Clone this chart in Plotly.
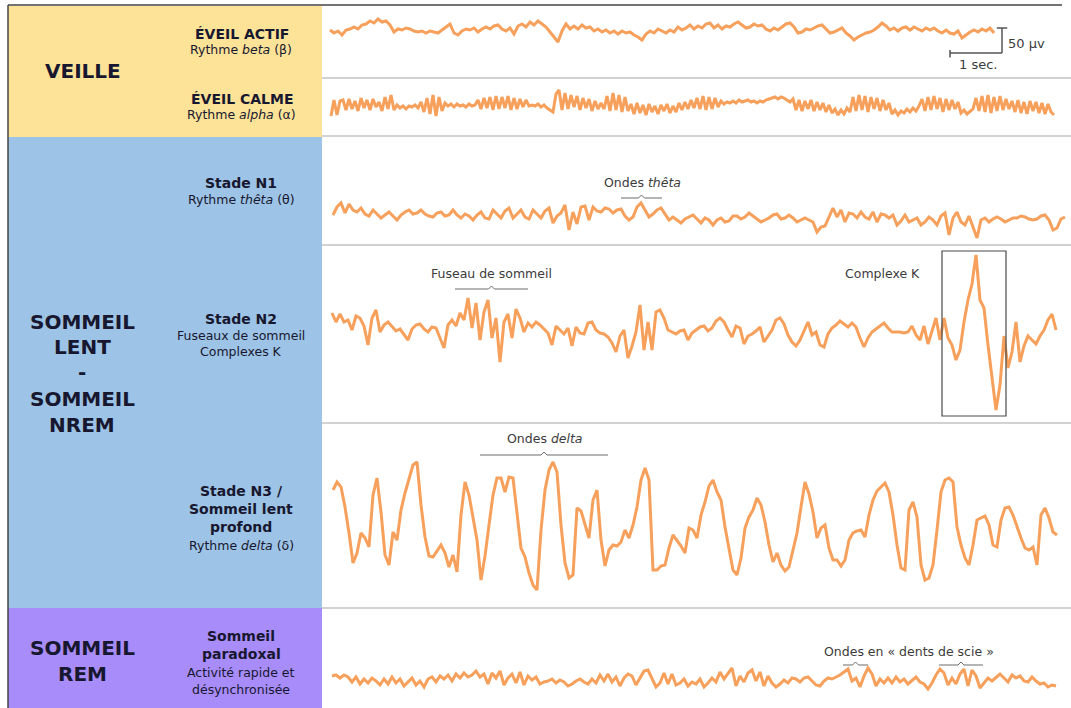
import plotly.graph_objects as go

W, H = 1071, 708
TRACE_LEFT = 322        # left edge of the trace panel (px)
PX_PER_SEC = 52         # time scale of the recordings
PX_PER_UV = 0.5         # amplitude scale: 50 µV = 25 px

# ---- EEG samples, µV (positive = up) ----
beta_uv = [-2, -8, -4, -12, -2, 0, 4, 0, 8, 10, 16, 12, 20, 14, 16, 8, -6, 0, -2, 2,
           0, -4, -6, -4, -8, -4, -6, -8, -2, 4, 10, -8, -12, -4, 0, -2, 2, -6, 0, 4,
           0, 6, 8, 0, -4, 2, -10, 6, 10, 4, 14, 8, 16, 10, 4, -6, -16, -26, -4, 10,
           0, 6, 0, 8, 2, 4, -4, 0, -6, -2, -8, -4, -10, -4, -8, -6, -12, -16, -22, -10,
           -4, -8, 0, -4, -8, -2, -6, 4, -2, 2, 8, 0, 6, 2, 10, 12, 2, 8, 0, 6,
           4, 10, 14, 8, 2, 4, 10, 6, 8, 0, -4, 2, -2, 4, 10, 12, 4, -8, -6, 0,
           -2, 2, 6, 8, 0, -8, -6, -2, 2, -8, -14, -22, -16, -12, -8, -6, -2, 4, 12, 6,
           -2, 2, -4, 2, 4, -2, 4, 0, -4, 2, -2, 2, -4, -8, -2, -8, -10, -4, -18, -12,
           -6, -2, -6, 0, -4, 2, -8]

alpha_uv = [-18, 14, -16, 12,
            14, -6, 16, -4, 12, -8, 18, -2, 14, -6, 16, 0, 10, -8, 20, -4, 24, -6,
            4, -2, 2, -4, 2, 0, 4, -2,
            10, -10, 18, -14, 24, -18, 20, -8, 8,
            2, 6, 0, 6, 2, 4, 0, 6, 2, 4,
            14, -4, 18, -2, 20, -6, 22, -4, 20, -2, 22, -6, 18, -4, 16, 0, 14, 2,
            4, 2, 6, 0, 4, -2, -6, -10,
            26, 34, -6, 28, -4, 24, 0, 22, -6, 18, -2, 16, -8, 12, -4, 8,
            -4, 22, -8, 28, -6, 24, -10, 20, -8,
            6, -14, 8, -12, 4, -16, 6, -10, 2, -14, 4, -8, 6, -12, 2, -10, 8, -6, 10, -4,
            14, -2, 18, -4,
            22, -6, 20, -4, 18, 0, 12,
            6, 10, 8, 12, 8, 14, 10, 12, 14, 10, 12, 8, 12, 10, 14, 16, 18, 20, 16, 20,
            18, 14, 10,
            16, -6, 14, -8, 12, -4, 14, -8, 10, -6, 8, -10, 4,
            -12, -4, -16, -6, -14, -2, -10,
            20, -8, 24, -6, 22, -10, 20, -4, 18, -8, 14, -6, 8,
            -14, -6, -16, -8, -12, -4, -10, -2, -8, 2,
            16, -8, 20, -6, 22, -4, 18, -10, 16, -6, 14, -4, 10,
            -12, -6, -14, -8, -4,
            18, -8, 22, -10, 24, -12, 20, -8, 22, -6, 16, -4,
            12, -10, 14, -12, 10, -14, 12, -8, 10, -12, 8, -14, 6, -10, -16]

theta_uv = [2, 18, 26, 6, 24, 12, 8, 16, 4, 0, 12, 4, -4, 2, 8, 0, -8, 2, 8, 12,
            4, 6, 12, 4, 0, -2, 6, 8, 0, 2, 12, 2, -4, 4, 0, -8, 2, 8, -4, -6,
            12, 4, -4, 10, 16, -4, 4, 12, -2, -6, 12, 4, -4, 10, 16, -14, 0, 6, 22, -28,
            8, -16, 18, 20, -8, 18, 10, 8, 16, 14, 6, 12, 14, 0, -8, -2, 18, 26, 12, -2,
            4, 12, 16, 4, -8, -2, -8, -14, -6, -2, 2, -6, -14, -4, -8, -18, -8, -4, -12, -10,
            0, 0, -6, -2, 6, 0, -6, -12, -8, -4, 2, 4, -6, -4, 2, -4, -12, -8, -4, -8,
            -12, -32, -22, -20, 0, 16, -2, 12, -12, 6, 4, -4, 8, -2, -6, 8, -12, 4, 2, -4,
            2, -18, -10, 2, -12, -8, -4, -18, -12, -2, -8, -18, 0, 6, -38, -4, 8, -12, -18, 0,
            -24, -44, -8, -4, -12, -6, -2, -6, -12, -8, -4, -4, 0, -2, -6, -8, -6, 0, 2, -8,
            -28, -24, -6, -2]

n2_uv = [24, 6, 22, 6, 10, -10, 18, 14, -2, -40, 14, 30, -14, 0, 6, -4, -12, -8, -20, -30,
         -8, 0, 2, -8, -14, -4, -6, -26, -46, 0, 10, -2, 24, 10, 54, -6, 44, -30, 26, 50,
         -26, 14, -74, 6, 22, -26, 32, 14, -14, 4, -4, 6, 0, -8, -16, -40, -2, -10, -18, -6,
         -42, -4, -16, -18, 4, 6, -10, -16, -18, -24, -36, -54, -22, -10, -66, -42, -14, 40, -50, 6,
         -50, 26, 30, 14, -10, -14, -18, -12, -10, -30, -16, -10, -4, -2, -12, -6, 8, 14, 6, -10,
         -24, -2, -6, -38, -22, -18, -12, -4, -34, -22, -10, 10, 14, 2, -20, -34, -42, -30, -10, 6,
         -20, -14, -40, -44, -18, -6, 0, 8, 2, -4, 4, -4, -26, -44, -26, -14, -8, -2, 4, -6,
         -14, -14, -14, -16, -14, -2, -20, -30, -2, -38, -10, 14, -30, 14, -26, -40, -70, -50, 6, 50,
         82, 140, 50, 34, -40, -100, -170, -120, -22, -86, -54, 6, -74, -42, -22, -30, -38, -22, -10, 10,
         22, -10]

delta_uv = [70, 86, 76, 36, -16, -76, -56, -16, -26, -44, 60, 94, 26, -60, -80, -14, -30, 30, 64, 90,
            120, 126, 40, -24, -62, -64, -52, -40, -56, -84, -60, -94, 20, 86, 60, 14, -30, -110, -62, 0,
            60, 94, 94, 66, 96, 94, 20, -46, -64, -96, -120, -130, -10, 70, 110, 126, 106, 0, -76, -106,
            -100, 34, 28, 0, -26, 50, 70, -30, -82, -50, -40, -42, -34, -10, -26, 0, 36, 90, 114, 90,
            -90, -90, -82, -80, -46, -20, -30, -42, -56, -6, -10, -26, 20, 46, 78, 90, 66, 50, -4, -46,
            -90, -100, -66, -6, 16, 30, 54, 40, 6, -40, -74, -56, -80, -92, -84, -50, -16, 36, 86, 62,
            26, -26, -6, 0, -46, -70, -70, -82, -70, -30, -16, -12, -10, -24, 20, 50, 68, 76, 84, 66,
            20, -40, -86, -90, 30, 46, 16, -80, -110, -106, -80, -10, 66, 90, 94, 86, -4, -40, -66, -80,
            -40, 10, 14, 18, 0, -40, -44, 10, 34, 36, 20, -4, -26, -46, -50, -44, -80, 20, 34, 14,
            -14, -20]

rem_uv = [8, 10, 4, 10, 6, -4, 6, -8, 2, -6, 4, -2, -10, 2, -8, 6, -6, 2, -12, -4,
          4, -10, -2, -14, 2, 6, -4, 8, 2, 10, -2, 12, 4, 14, 6, 10, 18, 6, 12, -8,
          14, 4, 18, -10, 4, 12, -6, 16, -10, 8, 0, 6, -8, -4, -2, 2, -6, 0, -4, -12,
          -8, -2, 2, -4, -8, 2, -6, 10, -2, 12, -4, 6, -12, 4, 12, 8, -10, 4, 18, 20,
          4, -14, -6, 14, -8, 12, -10, -6, 2, -12, -4, -8, 2, -14, -6, 4, -4, 16, 2, 14,
          24, -12, 8, -4, 14, 20, -2, 16, -12, 8, -6, -14, -8, 0, -6, 4, 2, -4, 4, 6,
          -2, -10, -12, -2, 4, 2, 6, 10, 16, 22, -2, 4, -14, 8, 24, 12, -12, 2, -6, 4,
          -6, 6, -4, 2, -8, 0, 6, -4, -8, -18, -6, 10, 22, 14, -10, 4, -8, 12, 22, -12,
          20, 8, -16, -6, 4, -2, 6, 12, 4, -4, 10, 4, 8, -2, -4, 6, -2, -8, -6, -14,
          -10, -12]

# scale bar
SCALE_UV = 50
SCALE_SEC = 1

ORANGE = "#F6A05C"
NAVY = "#17172f"
GREY_TXT = "#3b3b3b"
FONT = "DejaVu Sans"

# panel rows: band (px), baseline (px), first sample (px), sample spacing (px)
ROWS = [
    dict(data=beta_uv, top=6, bottom=78, base=29, x0=330, step=4),
    dict(data=alpha_uv, top=78, bottom=137, base=107, x0=331, step=3),
    dict(data=theta_uv, top=137, bottom=245, base=216, x0=333, step=4),
    dict(data=n2_uv, top=245, bottom=423, base=325, x0=332, step=4),
    dict(data=delta_uv, top=423, bottom=609, base=525, x0=333, step=4),
    dict(data=rem_uv, top=609, bottom=708, base=680, x0=332, step=4),
]


def px(x):
    return x / W


def py(y):
    return 1 - y / H


def t_of(x):
    return (x - TRACE_LEFT) / PX_PER_SEC


fig = go.Figure()
axes = {}
for i, row in enumerate(ROWS, start=1):
    yname = "y" if i == 1 else f"y{i}"
    t0 = t_of(row["x0"])
    dt = row["step"] / PX_PER_SEC
    t = [t0 + k * dt for k in range(len(row["data"]))]
    fig.add_trace(go.Scatter(
        x=t, y=row["data"], xaxis="x", yaxis=yname, mode="lines",
        line=dict(color=ORANGE, width=3), hoverinfo="skip", showlegend=False))
    axes["yaxis" if i == 1 else f"yaxis{i}"] = dict(
        domain=[py(row["bottom"]), py(row["top"])],
        range=[-(row["bottom"] - row["base"]) / PX_PER_UV,
               (row["base"] - row["top"]) / PX_PER_UV],
        visible=False, anchor="x", fixedrange=True)

shapes = []
# category panels
for y0, y1, col in [(6, 137, "#FDE397"), (137, 608, "#9DC3E6"), (608, 708, "#A78CFA")]:
    shapes.append(dict(type="rect", xref="paper", yref="paper", x0=px(8), x1=px(322),
                       y0=py(y1), y1=py(y0), fillcolor=col, line=dict(width=0), layer="below"))
# row separators in the trace panel
for y in [78, 136, 245, 423, 608]:
    shapes.append(dict(type="line", xref="paper", yref="paper", x0=px(322), x1=1,
                       y0=py(y), y1=py(y), line=dict(color="#D2D2D2", width=2)))
# outer frame (top and left)
shapes.append(dict(type="line", xref="paper", yref="paper", x0=px(8), x1=px(1062),
                   y0=py(5), y1=py(5), line=dict(color="#454545", width=1.5)))
shapes.append(dict(type="line", xref="paper", yref="paper", x0=px(8), x1=px(8),
                   y0=py(708), y1=py(5), line=dict(color="#454545", width=1.5)))


def brace(x1, x2, y):
    xm = (x1 + x2) / 2
    path = (f"M {px(x1)},{py(y)} L {px(xm - 3)},{py(y)} L {px(xm)},{py(y - 3)} "
            f"L {px(xm + 3)},{py(y)} L {px(x2)},{py(y)}")
    return dict(type="path", xref="paper", yref="paper", path=path,
                line=dict(color="#6a6a6a", width=1))


shapes += [brace(621, 662, 198), brace(455, 528, 289), brace(480, 608, 455),
           brace(843, 868, 665), brace(939, 983, 665)]

# K-complex frame, in the N2 row's data coordinates
shapes.append(dict(type="rect", xref="x", yref="y4", x0=t_of(942), x1=t_of(1006),
                   y0=-182, y1=148, line=dict(color="#4a4a4a", width=1.2)))

# scale bar (row 1 data coordinates)
sb_t = t_of(1002)
sb_v = -48
bar = dict(color="#555555", width=1.5)
shapes += [
    dict(type="line", xref="x", yref="y", x0=sb_t, x1=sb_t, y0=sb_v, y1=sb_v + SCALE_UV, line=bar),
    dict(type="line", xref="x", yref="y", x0=sb_t - 0.1, x1=sb_t + 0.1,
         y0=sb_v + SCALE_UV, y1=sb_v + SCALE_UV, line=bar),
    dict(type="line", xref="x", yref="y", x0=sb_t - SCALE_SEC, x1=sb_t, y0=sb_v, y1=sb_v, line=bar),
    dict(type="line", xref="x", yref="y", x0=sb_t - SCALE_SEC, x1=sb_t - SCALE_SEC,
         y0=sb_v + 6, y1=sb_v - 9, line=bar),
]

ann = []


def label(text, x, y, size, color=NAVY, xanchor="center"):
    ann.append(dict(text=text, x=px(x), y=py(y), xref="paper", yref="paper",
                    showarrow=False, xanchor=xanchor, yanchor="middle",
                    font=dict(family=FONT, size=size, color=color)))


BIG = 20
TITLE = 14
SUB = 12.5
NOTE = 12.5

label("<b>VEILLE</b>", 83, 71, BIG)
label("<b>SOMMEIL</b>", 82, 322, BIG)
label("<b>LENT</b>", 82, 347, BIG)
label("<b>-</b>", 82, 372, BIG)
label("<b>SOMMEIL</b>", 82, 399, BIG)
label("<b>NREM</b>", 82, 425, BIG)
label("<b>SOMMEIL</b>", 82, 648, BIG)
label("<b>REM</b>", 82, 674, BIG)

label("<b>ÉVEIL ACTIF</b>", 242, 34, TITLE)
label("Rythme <i>beta</i> (β)", 241, 50, SUB)
label("<b>ÉVEIL CALME</b>", 242, 99, TITLE)
label("Rythme <i>alpha</i> (α)", 241, 115, SUB)
label("<b>Stade N1</b>", 241, 183, TITLE)
label("Rythme <i>thêta</i> (θ)", 241, 199, SUB)
label("<b>Stade N2</b>", 241, 319, TITLE)
label("Fuseaux de sommeil", 241, 335, SUB)
label("Complexes K", 241, 351, SUB)
label("<b>Stade N3 /</b>", 241, 491, TITLE)
label("<b>Sommeil lent</b>", 241, 509, TITLE)
label("<b>profond</b>", 241, 527, TITLE)
label("Rythme <i>delta</i> (δ)", 241, 545, SUB)
label("<b>Sommeil</b>", 241, 636, TITLE)
label("<b>paradoxal</b>", 241, 654, TITLE)
label("Activité rapide et", 241, 672, SUB)
label("désynchronisée", 241, 689, SUB)

label("Ondes <i>thêta</i>", 642, 183, NOTE, GREY_TXT)
label("Fuseau de sommeil", 491, 273, NOTE, GREY_TXT)
label("Complexe K", 882, 273, NOTE, GREY_TXT)
label("Ondes <i>delta</i>", 545, 438, NOTE, GREY_TXT)
label("Ondes en « dents de scie »", 909, 651, NOTE, GREY_TXT)
label(f"{SCALE_UV} µv", 1006, 44, 13, GREY_TXT, xanchor="left")
label(f"{SCALE_SEC} sec.", 978, 64, 13, GREY_TXT)

fig.update_layout(
    width=W, height=H, margin=dict(l=0, r=0, t=0, b=0),
    paper_bgcolor="white", plot_bgcolor="rgba(0,0,0,0)",
    xaxis=dict(domain=[px(TRACE_LEFT), 1], range=[0, (W - TRACE_LEFT) / PX_PER_SEC],
               visible=False, fixedrange=True),
    shapes=shapes, annotations=ann, showlegend=False, **axes)

fig.write_html("out.html", config={"displayModeBar": False})
